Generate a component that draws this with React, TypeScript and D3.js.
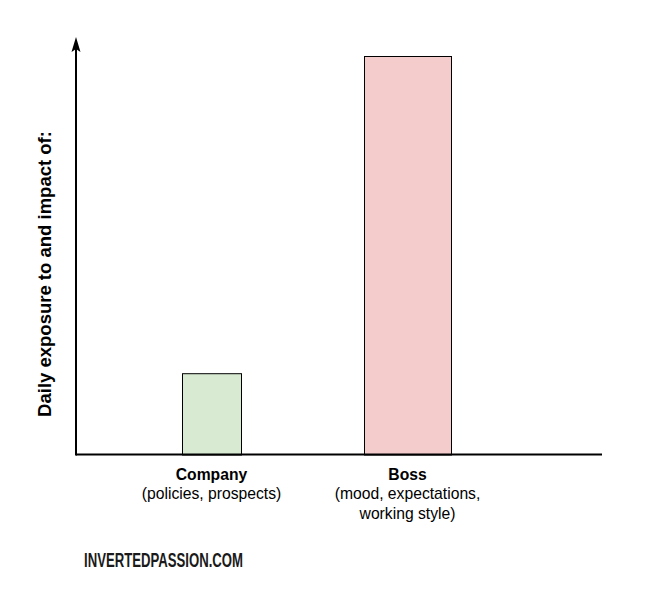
import React from "react";
import * as d3 from "d3";

const categories = ["Company", "Boss"];
const subLabels = [["(policies, prospects)"], ["(mood, expectations,", "working style)"]];
const values = [20.4, 100];
const yLabel = "Daily exposure to and impact of:";
const watermark = "INVERTEDPASSION.COM";

const fills = ["#d9ead3", "#f4cccc"];
const barWidths = [59, 87];

const W = 645;
const H = 593;
const axisX0 = 76;
const axisX1 = 602;
const axisY = 454.5;

export default function App() {
  const x = d3.scaleBand<string>().domain(categories).range([113.5, 505.5]).padding(0);
  const y = d3.scaleLinear().domain([0, 100]).range([axisY, 56]);
  const font = "'Liberation Sans', Arial, sans-serif";

  return (
    <svg
      width={W}
      height={H}
      style={{ position: "absolute", left: 0, top: 0, background: "#fff" }}
    >
      <rect x={0} y={0} width={W} height={H} fill="#fff" />
      {categories.map((c, i) => {
        const cx = (x(c) as number) + x.bandwidth() / 2;
        const bw = barWidths[i];
        return (
          <rect
            key={c}
            x={cx - bw / 2 + 0.5}
            y={y(values[i]) + 0.5}
            width={bw}
            height={axisY - y(values[i])}
            fill={fills[i]}
            stroke="#000"
            strokeWidth={1}
          />
        );
      })}
      {/* x axis */}
      <line x1={axisX0} x2={axisX1} y1={axisY} y2={axisY} stroke="#000" strokeWidth={2} />
      {/* y axis */}
      <line x1={axisX0} x2={axisX0} y1={axisY + 1} y2={46} stroke="#000" strokeWidth={2} />
      <path
        d={`M${axisX0},37 L${axisX0 + 4.5},52 L${axisX0},49 L${axisX0 - 4.5},52 Z`}
        fill="#000"
      />
      {/* y label */}
      <text
        transform={`translate(51,274) rotate(-90)`}
        textAnchor="middle"
        fontFamily={font}
        fontWeight="bold"
        fontSize={18.5}
        fill="#000"
      >
        {yLabel}
      </text>
      {/* category labels */}
      {categories.map((c, i) => {
        const cx = (x(c) as number) + x.bandwidth() / 2;
        return (
          <g key={c} fontFamily={font} fontSize={15.7} fill="#000" textAnchor="middle">
            <text x={cx} y={480} fontWeight="bold">
              {c}
            </text>
            {subLabels[i].map((s, j) => (
              <text key={j} x={cx} y={499 + j * 19.5}>
                {s}
              </text>
            ))}
          </g>
        );
      })}
      <text
        x={84}
        y={567}
        fontFamily="'Liberation Sans Narrow', 'Liberation Sans', Arial, sans-serif"
        fontSize={21}
        fontWeight="bold"
        textLength={159}
        lengthAdjust="spacingAndGlyphs"
        fill="#1a1a1a"
      >
        {watermark}
      </text>
    </svg>
  );
}
